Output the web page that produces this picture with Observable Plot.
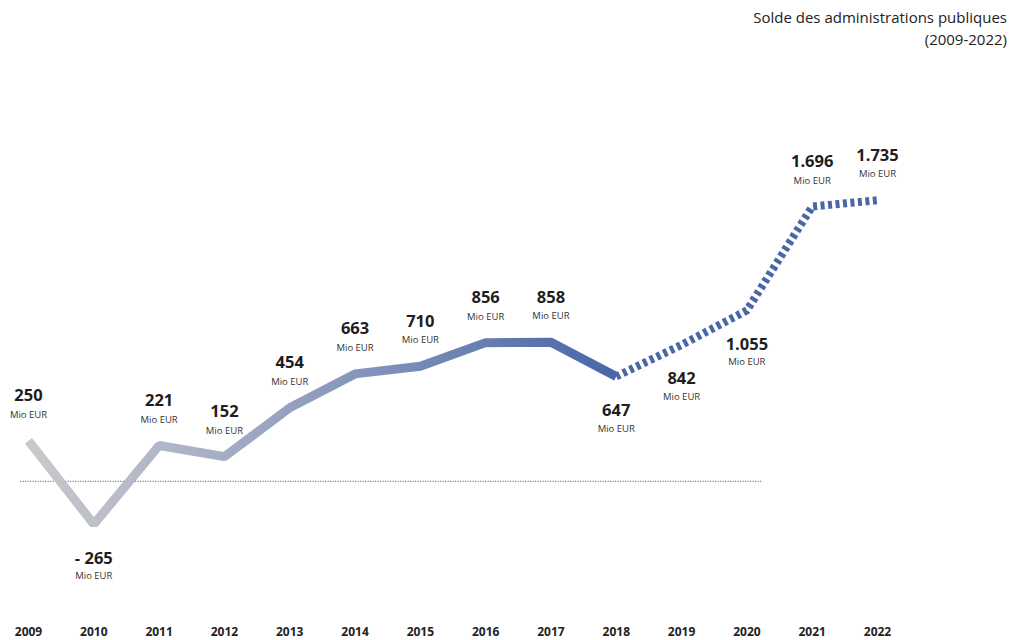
<!DOCTYPE html>
<html>
<head>
<meta charset="utf-8">
<script src="https://cdn.jsdelivr.net/npm/d3@7"></script>
<script src="https://cdn.jsdelivr.net/npm/@observablehq/plot@0.6"></script>
<style>
  body { margin: 0; background: #fff; font-family: "Open Sans", sans-serif; }
  #wrap { position: relative; width: 1015px; height: 640px; }
  #title { position: absolute; right: 8px; top: 6px; text-align: right; font-size: 15px; line-height: 22px; color: #222; }
  #chart svg [aria-label="x-axis tick label"] text { font-weight: 700; }
</style>
</head>
<body>
<div id="wrap">
  <div id="chart"></div>
  <div id="title">Solde des administrations publiques<br>(2009-2022)</div>
</div>
<script>
const years = [2009, 2010, 2011, 2012, 2013, 2014, 2015, 2016, 2017, 2018, 2019, 2020, 2021, 2022];
const values = [250, -265, 221, 152, 454, 663, 710, 856, 858, 647, 842, 1055, 1696, 1735];
const lastActualYear = 2018;
const unit = "Mio EUR";
const belowYears = [2010, 2018, 2019, 2020];

const data = years.map((year, i) => ({year, value: values[i]}));
const actual = data.filter(d => d.year <= lastActualYear);
const forecast = data.filter(d => d.year >= lastActualYear);
const above = data.filter(d => !belowYears.includes(d.year));
const below = data.filter(d => belowYears.includes(d.year));

const loc = d3.formatLocale({decimal: ",", thousands: ".", grouping: [3], currency: ["", ""]});
const f = loc.format(",d");
const fmt = d => d.value < 0 ? "- " + f(-d.value) : f(d.value);

const font = "'Open Sans', sans-serif";
const numStyle = {fontSize: 16.5, fontWeight: 700, fill: "#1e1e1e", fontFamily: font};
const unitStyle = {fontSize: 9.5, fill: "#333", fontFamily: font};

const plot = Plot.plot({
  width: 1015,
  height: 640,
  marginLeft: 28,
  marginRight: 138,
  marginTop: 92,
  marginBottom: 62,
  style: {fontFamily: font, background: "white"},
  x: {domain: [2009, 2022], label: null},
  y: {domain: [-600, 2400], axis: null},
  marks: [
    Plot.ruleY([0], {x1: 2008.88, x2: 2020.23, stroke: "#444", strokeWidth: 1, strokeDasharray: "1,1.5"}),
    Plot.line(actual, {x: "year", y: "value", stroke: "url(#solidGrad)", strokeWidth: 9, strokeLinejoin: "miter", strokeLinecap: "butt"}),
    Plot.line(forecast, {x: "year", y: "value", stroke: "#4967a8", strokeWidth: 8, strokeDasharray: "4,3.5", strokeLinecap: "butt"}),
    Plot.text(above, {x: "year", y: "value", text: fmt, dy: -45, ...numStyle}),
    Plot.text(above, {x: "year", y: "value", text: () => unit, dy: -26, ...unitStyle}),
    Plot.text(below, {x: "year", y: "value", text: fmt, dy: 34, ...numStyle}),
    Plot.text(below, {x: "year", y: "value", text: () => unit, dy: 52, ...unitStyle}),
    Plot.axisX({ticks: years, tickFormat: d => String(d), tickSize: 0, tickPadding: 49, fontSize: 12, fontWeight: 700, fill: "#222", fontFamily: font, label: null})
  ]
});

const xs = plot.scale("x");
const svg = d3.select(plot);
const defs = svg.insert("defs", ":first-child");
const grad = defs.append("linearGradient")
  .attr("id", "solidGrad")
  .attr("gradientUnits", "userSpaceOnUse")
  .attr("x1", xs.apply(years[0])).attr("x2", xs.apply(lastActualYear))
  .attr("y1", 0).attr("y2", 0);
grad.append("stop").attr("offset", "0%").attr("stop-color", "#c9c9cb");
grad.append("stop").attr("offset", "30%").attr("stop-color", "#a9b0c6");
grad.append("stop").attr("offset", "100%").attr("stop-color", "#4866a7");

document.getElementById("chart").appendChild(plot);
</script>
</body>
</html>
